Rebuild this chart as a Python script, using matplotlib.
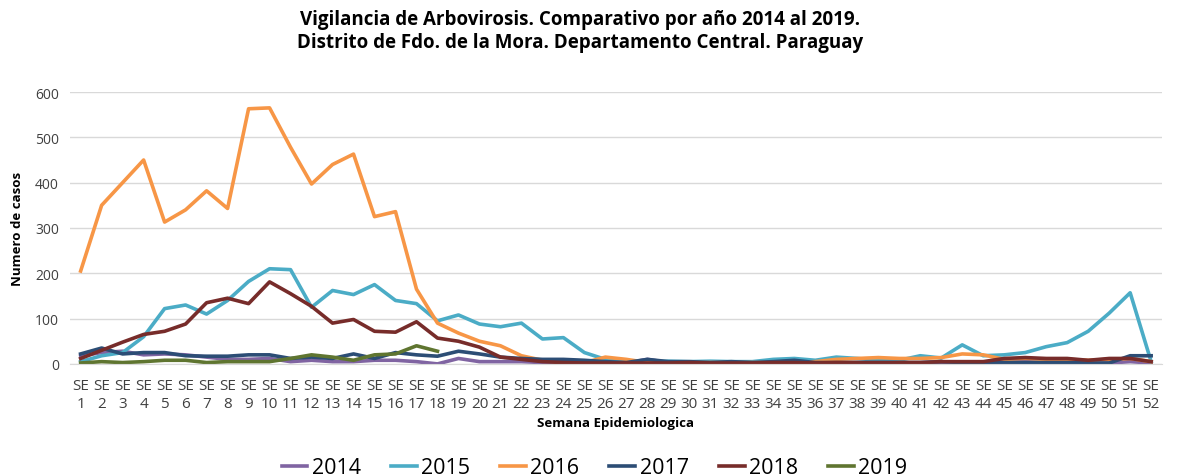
import numpy as np
import matplotlib
matplotlib.use("Agg")
import matplotlib.pyplot as plt
from matplotlib import rc
rc("font", **{"family": "sans-serif", "sans-serif": ["Open Sans", "DejaVu Sans"]})

weeks = list(range(1, 53))
week_labels = ["SE\n%d" % w for w in weeks]

y2014 = [18, 25, 28, 20, 22, 20, 15, 10, 10, 12, 5, 8, 5, 5, 8, 8, 5, 0, 12, 5,
         5, 5, 3, 2, 2, 2, 2, 10, 3, 2, 2, 2, 2, 2, 2, 2, 2, 2, 2, 2,
         2, 3, 3, 3, 5, 5, 3, 3, 2, 2, 5, 2]
y2015 = [5, 18, 25, 60, 122, 130, 110, 140, 182, 210, 208, 125, 162, 153, 175, 140, 133, 95, 108, 88,
         82, 90, 55, 58, 25, 10, 5, 5, 6, 5, 6, 5, 5, 10, 12, 8, 15, 12, 8, 8,
         18, 13, 42, 18, 20, 25, 38, 47, 72, 112, 157, 5]
y2016 = [205, 350, 400, 450, 313, 340, 382, 343, 563, 565, 478, 397, 440, 463, 325, 336, 165, 90, 68, 50,
         40, 18, 8, 3, 3, 15, 10, 3, 3, 3, 3, 3, 3, 3, 3, 5, 10, 12, 14, 12,
         12, 14, 22, 20, 10, 12, 10, 10, 8, 10, 12, 5]
y2017 = [22, 35, 22, 25, 25, 18, 17, 17, 20, 20, 12, 15, 12, 22, 12, 25, 20, 17, 28, 22,
         15, 12, 10, 10, 8, 5, 3, 10, 5, 5, 3, 5, 3, 5, 8, 3, 3, 3, 3, 3,
         3, 5, 3, 3, 3, 3, 3, 3, 2, 2, 18, 18]
y2018 = [12, 30, 48, 65, 72, 88, 135, 145, 133, 181, 155, 127, 90, 98, 72, 70, 93, 57, 50, 37,
         15, 10, 5, 3, 2, 2, 2, 2, 2, 3, 2, 2, 2, 3, 3, 2, 3, 3, 3, 3,
         3, 5, 5, 5, 12, 14, 12, 12, 8, 12, 12, 5]
y2019 = [2, 5, 3, 5, 8, 8, 3, 5, 5, 5, 12, 20, 15, 8, 20, 22, 40, 28]

series = [("2014", y2014, "#8064A2"),
          ("2015", y2015, "#4BACC6"),
          ("2016", y2016, "#F79646"),
          ("2017", y2017, "#2C4D75"),
          ("2018", y2018, "#772C2A"),
          ("2019", y2019, "#5F7530")]

fig = plt.figure(figsize=(11.89, 4.77), dpi=100)
ax = fig.add_axes([0.059, 0.235, 0.918, 0.57])

for name, vals, col in series:
    ax.plot(weeks[:len(vals)], vals, color=col, lw=2.6, label=name, solid_joinstyle="round")

ax.set_xlim(0.5, 52.5)
ax.set_ylim(0, 600)
ax.set_yticks(range(0, 601, 100))
ax.set_xticks(weeks)
ax.set_xticklabels(week_labels, fontsize=11, linespacing=1.25)
ax.tick_params(axis="y", labelsize=10, length=0, pad=8, colors="#404040")
ax.tick_params(axis="x", length=0, pad=10, colors="#404040")
ax.grid(axis="y", color="#D9D9D9", lw=1)
ax.set_axisbelow(True)
for s in ["top", "right", "left"]:
    ax.spines[s].set_visible(False)
ax.spines["bottom"].set_color("#D9D9D9")

ax.set_xlabel("Semana Epidemiologica", fontsize=9.5, fontweight="bold", labelpad=4)
ax.set_ylabel("Numero de casos", fontsize=9.5, fontweight="bold", labelpad=8)
fig.suptitle("Vigilancia de Arbovirosis. Comparativo por año 2014 al 2019.\n"
             "Distrito de Fdo. de la Mora. Departamento Central. Paraguay",
             x=0.488, y=0.98, fontsize=13.5, fontweight="bold", linespacing=1.25)

fig.legend(loc="lower center", bbox_to_anchor=(0.5, -0.045), ncol=6, frameon=False,
           fontsize=15.5, handlelength=1.2, handletextpad=0.2, columnspacing=1.4)

plt.savefig("out.png", dpi=100)
